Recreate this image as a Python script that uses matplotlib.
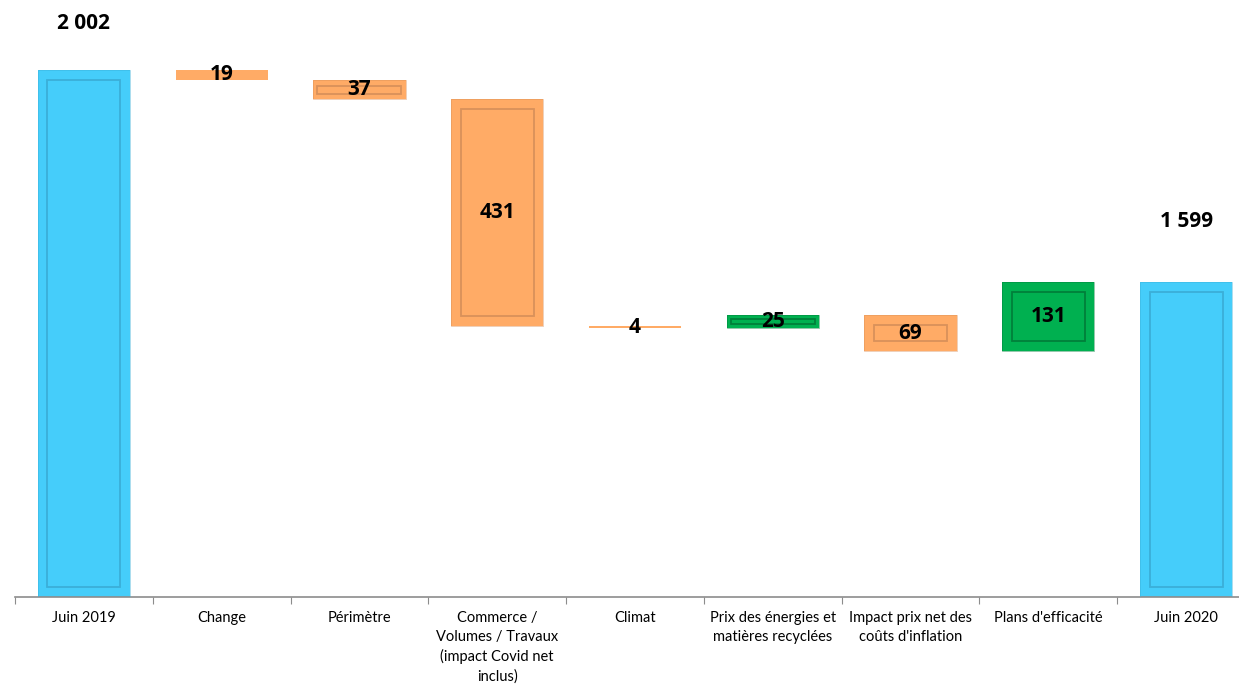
import numpy as np
import matplotlib.pyplot as plt

# waterfall data
categories = ["Juin 2019", "Change", "Périmètre",
              "Commerce /\nVolumes / Travaux\n(impact Covid net\ninclus)",
              "Climat", "Prix des énergies et\nmatières recyclées",
              "Impact prix net des\ncoûts d'inflation", "Plans d'efficacité",
              "Juin 2020"]
start_value = 2002
deltas = [-19, -37, -431, -4, 25, -69, 131]
end_value = 1599
labels = ["2 002", "19", "37", "431", "4", "25", "69", "131", "1 599"]

blue = "#45CDFA"
orange = "#FFAB66"
green = "#00B050"
dark = {blue: "#3BAFD8", orange: "#D9915A", green: "#00803A"}

plt.rcParams['font.family'] = ['Lato', 'DejaVu Sans']

fig = plt.figure(figsize=(12.39, 6.84), dpi=100)
ax = fig.add_axes([15 / 1239, 87 / 684, 1240 / 1239, 597 / 684])

# build bottoms / heights
bottoms, heights, colors = [], [], []
base = 1000
bottoms.append(base)
heights.append(start_value - base)
colors.append(blue)
run = start_value
for d in deltas:
    new = run + d
    bottoms.append(min(run, new))
    heights.append(abs(d))
    colors.append(green if d > 0 else orange)
    run = new
bottoms.append(base)
heights.append(end_value - base)
colors.append(blue)

x = np.arange(len(categories))
w = 0.67
ax.bar(x, heights, w, bottom=bottoms, color=colors, edgecolor="none", zorder=2)

# bevel look: inner outline
for xi, b, h, c in zip(x, bottoms, heights, colors):
    if h < 22:
        continue
    iy = min(19, h * 0.3)
    ix = 0.07 if h > 40 else 0.03
    ax.bar(xi, h - 2 * iy, w - 2 * ix, bottom=b + iy, fill=False,
           edgecolor=dark[c], linewidth=1.3, zorder=3)
    ax.bar(xi, h, w, bottom=b, fill=False, edgecolor=dark[c],
           linewidth=0.6, alpha=0.5, zorder=3)

# value labels
lab_font = dict(fontsize=15, fontweight="bold", color="black",
                family=["Open Sans", "DejaVu Sans"])
for i, (xi, b, h, lab) in enumerate(zip(x, bottoms, heights, labels)):
    if i == 0:
        ax.text(xi, b + h + 89, lab, ha="center", va="center", **lab_font)
    elif i == len(x) - 1:
        ax.text(xi, b + h + 114, lab, ha="center", va="center", **lab_font)
    else:
        ax.text(xi, b + h / 2, lab, ha="center", va="center", zorder=4,
                **lab_font)

ax.set_xlim(-0.5, len(x) - 0.5)
ax.set_ylim(1000, 2135)

for s in ["top", "right", "left"]:
    ax.spines[s].set_visible(False)
ax.spines["bottom"].set_color("#8C8C8C")
ax.spines["bottom"].set_linewidth(1.2)
ax.set_yticks([])

ax.set_xticks(np.arange(-0.5, len(x)), labels=[])
ax.tick_params(axis="x", which="major", length=5, color="#8C8C8C", direction="out")
ax.set_xticks(x, labels=categories, minor=True)
ax.tick_params(axis="x", which="minor", length=0, pad=10, labelsize=10.5)
for t in ax.get_xticklabels(minor=True):
    t.set_linespacing(1.45)
    t.set_verticalalignment("top")

fig.savefig("out.png", dpi=100)
